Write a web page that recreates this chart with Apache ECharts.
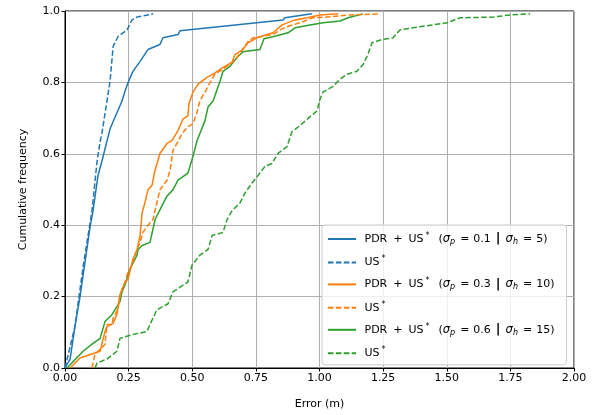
<!DOCTYPE html>
<html>
<head>
<meta charset="utf-8">
<script src="https://cdn.jsdelivr.net/npm/echarts@6/dist/echarts.min.js"></script>
<style>
html,body{margin:0;padding:0;background:#fff;}
#chart{width:600px;height:415px;}
</style>
</head>
<body>
<div id="chart"></div>
<script>
// ECDF points, [error (m), cumulative frequency]
var pdr01 = [[0,0],[0.02,0.025],[0.039,0.116],[0.059,0.2],[0.098,0.393],[0.11,0.44],[0.13,0.54],[0.145,0.579],[0.177,0.67],[0.224,0.748],[0.236,0.776],[0.248,0.8],[0.267,0.831],[0.295,0.859],[0.326,0.892],[0.373,0.906],[0.385,0.925],[0.444,0.934],[0.452,0.945],[0.857,0.975],[0.864,0.981],[0.97,0.992]];
var us01 = [[0,0],[0.039,0.116],[0.071,0.283],[0.106,0.44],[0.126,0.579],[0.138,0.634],[0.145,0.657],[0.177,0.803],[0.189,0.9],[0.208,0.928],[0.244,0.947],[0.263,0.975],[0.283,0.983],[0.346,0.992]];
var pdr03 = [[0.02,0],[0.059,0.028],[0.138,0.047],[0.157,0.102],[0.165,0.116],[0.189,0.125],[0.204,0.15],[0.216,0.205],[0.236,0.241],[0.248,0.249],[0.267,0.305],[0.283,0.332],[0.295,0.371],[0.303,0.435],[0.314,0.463],[0.326,0.499],[0.342,0.512],[0.354,0.554],[0.373,0.601],[0.401,0.629],[0.42,0.637],[0.444,0.665],[0.464,0.698],[0.483,0.706],[0.487,0.74],[0.503,0.773],[0.523,0.795],[0.558,0.814],[0.582,0.823],[0.621,0.842],[0.656,0.856],[0.668,0.878],[0.699,0.892],[0.719,0.911],[0.754,0.925],[0.817,0.939],[0.853,0.961],[0.904,0.975],[0.951,0.981],[1.002,0.989],[1.073,0.992]];
var us03 = [[0.106,0],[0.118,0.039],[0.157,0.066],[0.165,0.122],[0.185,0.122],[0.189,0.139],[0.208,0.166],[0.216,0.205],[0.236,0.241],[0.248,0.269],[0.263,0.288],[0.283,0.332],[0.295,0.352],[0.306,0.38],[0.334,0.407],[0.346,0.416],[0.361,0.463],[0.373,0.499],[0.401,0.526],[0.413,0.554],[0.424,0.609],[0.44,0.629],[0.46,0.657],[0.483,0.676],[0.503,0.684],[0.519,0.717],[0.53,0.748],[0.55,0.773],[0.57,0.8],[0.589,0.823],[0.621,0.837],[0.656,0.856],[0.676,0.87],[0.719,0.914],[0.739,0.925],[0.817,0.934],[0.845,0.947],[0.872,0.956],[0.923,0.967],[0.974,0.981],[1.029,0.983],[1.12,0.989],[1.238,0.992]];
var pdr06 = [[0.008,0],[0.071,0.047],[0.11,0.069],[0.138,0.083],[0.157,0.13],[0.185,0.15],[0.216,0.186],[0.224,0.213],[0.236,0.233],[0.255,0.277],[0.283,0.316],[0.287,0.332],[0.303,0.343],[0.334,0.352],[0.354,0.416],[0.373,0.443],[0.401,0.482],[0.424,0.499],[0.444,0.526],[0.483,0.546],[0.503,0.593],[0.519,0.637],[0.53,0.657],[0.55,0.693],[0.562,0.731],[0.582,0.748],[0.609,0.803],[0.621,0.831],[0.648,0.845],[0.676,0.87],[0.699,0.886],[0.766,0.892],[0.782,0.922],[0.817,0.928],[0.876,0.939],[0.904,0.953],[0.963,0.961],[1.014,0.967],[1.081,0.972],[1.112,0.981],[1.171,0.992]];
var us06 = [[0.118,0],[0.126,0.014],[0.165,0.025],[0.204,0.047],[0.216,0.083],[0.267,0.094],[0.322,0.102],[0.334,0.122],[0.361,0.163],[0.405,0.18],[0.424,0.213],[0.483,0.241],[0.499,0.288],[0.53,0.316],[0.562,0.332],[0.578,0.371],[0.621,0.38],[0.637,0.416],[0.656,0.44],[0.688,0.463],[0.707,0.49],[0.735,0.518],[0.766,0.546],[0.786,0.565],[0.813,0.573],[0.837,0.601],[0.872,0.62],[0.892,0.662],[0.923,0.679],[0.963,0.704],[0.99,0.72],[1.002,0.753],[1.014,0.773],[1.053,0.789],[1.081,0.809],[1.108,0.823],[1.147,0.831],[1.171,0.85],[1.19,0.878],[1.206,0.911],[1.246,0.92],[1.289,0.925],[1.316,0.947],[1.367,0.953],[1.501,0.967],[1.552,0.981],[1.682,0.983],[1.749,0.989],[1.827,0.992]];

var seriesKeys = ['pdr01','us01','pdr03','us03','pdr06','us06'];
var seriesData = [pdr01, us01, pdr03, us03, pdr06, us06];
var sigmaP = ['0.1','0.3','0.6'];
var sigmaH = ['5','10','15'];
var colors = ['#1f77b4','#1f77b4','#ff7f0e','#ff7f0e','#2ca02c','#2ca02c'];

function legendText(name){
    var i = seriesKeys.indexOf(name);
    var k = Math.floor(i/2);
    if(i%2==1){
        return '{t| US}{sup|*}';
    }
    return '{t| PDR}{pl|+}{t|US}{sup|*}{t|  (}{i|σ}{sub|p}{eq|=}{t|'+sigmaP[k]+'}{bar||}{i|σ}{sub|h}{eq|=}{t|'+sigmaH[k]+')}';
}

var chart = echarts.init(document.getElementById('chart'));
var series = [];
for(var i=0;i<seriesKeys.length;i++){
    series.push({
        name: seriesKeys[i],
        type: 'line',
        data: seriesData[i],
        symbol: 'none',
        color: colors[i],
        lineStyle: {
            width: 1.5,
            color: colors[i],
            type: i%2==1 ? [5.5,2.4] : 'solid'
        },
        z: 10-i
    });
}

chart.setOption({
    animation: false,
    backgroundColor: '#fff',
    textStyle: {fontFamily: 'DejaVu Sans'},
    grid: {
        left: 65, right: 26, top: 11, bottom: 43,
        show: true, borderColor: '#000', borderWidth: 1
    },
    legend: {
        orient: 'vertical',
        left: 322, top: 225,
        padding: [7,12,6,5],
        itemWidth: 28, itemHeight: 14,
        itemGap: 9.4,
        itemStyle: {opacity: 0},
        backgroundColor: 'rgba(255,255,255,0.8)',
        borderColor: '#cccccc', borderWidth: 1, borderRadius: 3,
        data: seriesKeys,
        formatter: legendText,
        textStyle: {
            color: '#000',
            rich: {
                t: {fontSize: 11, fontFamily: 'DejaVu Sans', color: '#000', lineHeight: 14},
                pl: {fontSize: 11, fontFamily: 'DejaVu Sans', color: '#000', lineHeight: 14, padding: [0,6,0,6]},
                eq: {fontSize: 11, fontFamily: 'DejaVu Sans', color: '#000', lineHeight: 14, padding: [0,4,0,5]},
                sup: {fontSize: 8, fontFamily: 'DejaVu Sans', color: '#000', verticalAlign: 'top', lineHeight: 14, padding: [0,2,4,2]},
                sub: {fontSize: 8, fontFamily: 'DejaVu Sans', fontStyle: 'italic', color: '#000', verticalAlign: 'bottom', lineHeight: 14, padding: [4,0,0,0]},
                i: {fontSize: 11.5, fontFamily: 'DejaVu Sans', fontStyle: 'italic', color: '#000', lineHeight: 14},
                bar: {fontSize: 13, fontWeight: 'bold', fontFamily: 'DejaVu Sans', color: '#000', lineHeight: 14, padding: [0,5,0,5]}
            }
        }
    },
    xAxis: {
        type: 'value',
        min: 0, max: 2, interval: 0.25,
        name: 'Error (m)',
        nameLocation: 'middle',
        nameGap: 31,
        nameTextStyle: {fontSize: 11, color: '#000'},
        axisLine: {onZero: false, lineStyle: {color: '#000', width: 1}},
        axisTick: {length: 3.5, lineStyle: {color: '#000'}},
        axisLabel: {
            fontSize: 11, color: '#000', margin: 5,
            formatter: function(v){ return v.toFixed(2); }
        },
        splitLine: {show: true, lineStyle: {color: '#b0b0b0', width: 1}}
    },
    yAxis: {
        type: 'value',
        min: 0, max: 1, interval: 0.2,
        name: 'Cumulative frequency',
        nameLocation: 'middle',
        nameGap: 36,
        nameTextStyle: {fontSize: 11, color: '#000'},
        axisLine: {show: true, onZero: false, lineStyle: {color: '#000', width: 1}},
        axisTick: {show: true, length: 3.5, lineStyle: {color: '#000'}},
        axisLabel: {
            fontSize: 11, color: '#000', margin: 5,
            formatter: function(v){ return v.toFixed(1); }
        },
        splitLine: {show: true, lineStyle: {color: '#b0b0b0', width: 1}}
    },
    series: series
});
</script>
</body>
</html>
